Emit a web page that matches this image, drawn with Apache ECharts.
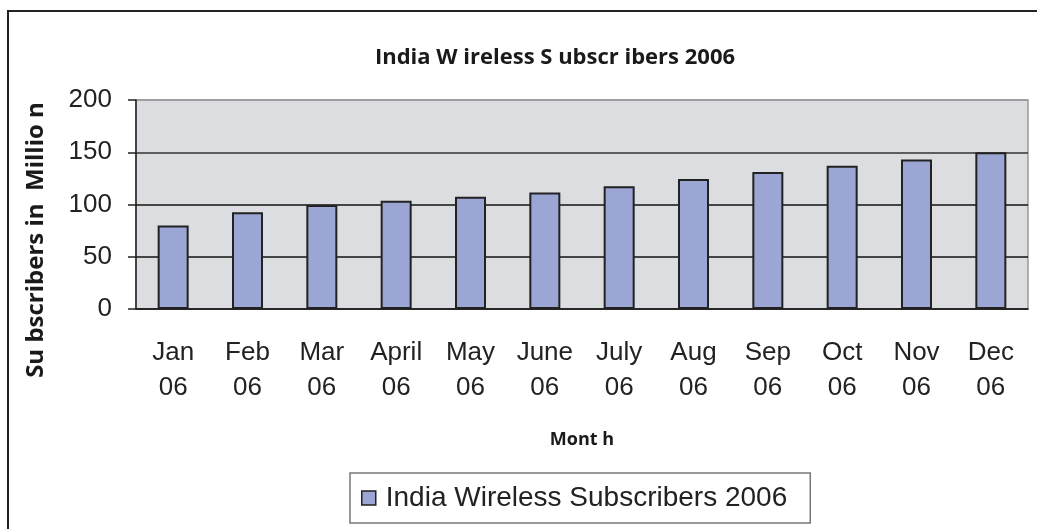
<!DOCTYPE html>
<html>
<head>
<meta charset="utf-8">
<style>
  html, body { margin: 0; padding: 0; background: #fff; }
  #main { width: 1037px; height: 529px; }
</style>
<script src="https://cdn.jsdelivr.net/npm/echarts@6/dist/echarts.min.js"></script>
</head>
<body>
<div id="main"></div>
<script>
// months and subscriber counts (million)
var months = ['Jan\n06', 'Feb\n06', 'Mar\n06', 'April\n06', 'May\n06', 'June\n06',
  'July\n06', 'Aug\n06', 'Sep\n06', 'Oct\n06', 'Nov\n06', 'Dec\n06'];
var subscribers = [80, 92.5, 99.5, 103.5, 107.5, 111.5, 117.5, 124.5, 131, 137, 143, 150];
var yTicks = [0, 50, 100, 150, 200];

var seriesName = 'India Wireless Subscribers 2006';

var myChart = echarts.init(document.getElementById('main'));
myChart.setOption({
  animation: false,
  backgroundColor: '#fff',
  title: {
    text: 'India W ireless S ubscr ibers 2006',
    left: 550,
    top: 42,
    textAlign: 'center',
    textStyle: {
      fontFamily: 'Open Sans',
      fontWeight: 'bold',
      fontSize: 22,
      color: '#1a1a1a'
    }
  },
  legend: {
    data: [seriesName],
    left: 350,
    top: 473,
    padding: [11, 23, 11, 11],
    borderColor: '#777',
    borderWidth: 1.5,
    itemWidth: 14,
    itemHeight: 14,
    itemGap: 10,
    icon: 'rect',
    itemStyle: { borderColor: '#222', borderWidth: 1.5 },
    textStyle: {
      fontFamily: 'Liberation Sans',
      fontSize: 28,
      padding: [0, 0, 0, 5],
      color: '#222'
    }
  },
  grid: {
    left: 136,
    right: 9,
    top: 100,
    bottom: 220,
    show: true,
    backgroundColor: '#dcdde0',
    borderColor: '#999',
    borderWidth: 1.5
  },
  xAxis: {
    type: 'category',
    data: months,
    name: 'Mont h',
    nameLocation: 'middle',
    nameGap: 122,
    nameTextStyle: {
      fontFamily: 'Open Sans',
      fontWeight: 'bold',
      fontSize: 18,
      color: '#1a1a1a'
    },
    axisLine: { lineStyle: { color: '#222', width: 1.5 } },
    axisTick: { length: 8, lineStyle: { color: '#222', width: 1.5 } },
    axisLabel: {
      margin: 26,
      fontFamily: 'Liberation Sans',
      fontSize: 26,
      lineHeight: 35,
      color: '#222'
    }
  },
  yAxis: {
    type: 'value',
    min: 0,
    max: 200,
    interval: 50,
    axisLine: { show: true, lineStyle: { color: '#222', width: 1.5 } },
    axisTick: { show: true, length: 8, lineStyle: { color: '#222', width: 1.5 } },
    axisLabel: {
      margin: 24,
      fontFamily: 'Liberation Sans',
      fontSize: 26,
      color: '#222',
      formatter: function (v) { return yTicks.indexOf(v) >= 0 ? String(v) : ''; }
    },
    splitLine: {
      lineStyle: { color: ['#111', '#111', '#111', '#333', '#999'], width: 1.5 }
    }
  },
  graphic: [
    {
      type: 'rect',
      shape: { x: 8, y: 11, width: 1200, height: 700 },
      style: { fill: 'none', stroke: '#222', lineWidth: 2 },
      silent: true
    },
    {
      type: 'text',
      x: 36,
      y: 240,
      rotation: Math.PI / 2,
      style: {
        text: 'Su bscribers in  Millio n',
        fontFamily: 'Open Sans',
        fontWeight: 'bold',
        fontSize: 24,
        fill: '#1a1a1a',
        align: 'center',
        verticalAlign: 'middle'
      },
      silent: true
    }
  ],
  series: [{
    name: seriesName,
    type: 'bar',
    data: subscribers,
    barWidth: 31,
    itemStyle: {
      color: '#9ba6d5',
      borderColor: '#222',
      borderWidth: 2
    }
  }]
});
</script>
</body>
</html>
